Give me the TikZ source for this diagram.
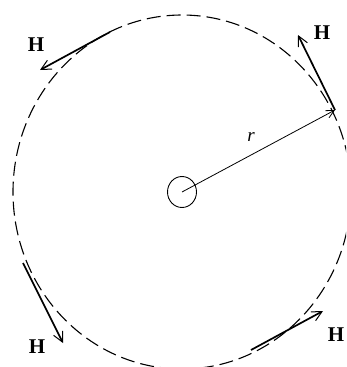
\documentclass[tikz,border=0pt]{standalone}
\usepackage{fontspec}
\setmainfont{Liberation Serif}
\usetikzlibrary{arrows.meta,shapes.geometric}
\begin{document}
\begin{tikzpicture}[x=1pt,y=-1pt,
  field/.style={line width=1.7pt,-{Straight Barb[length=10pt,width=10pt,line width=1pt]}},
  hlabel/.style={font=\fontsize{21}{21}\selectfont\bfseries,inner sep=0pt},
  rarrow/.style={line width=0.8pt,-{Straight Barb[length=8pt,width=8pt]}}]
\useasboundingbox (0,0) rectangle (346,367);
\begin{scope}
\clip (0,0) rectangle (346,367);
\draw[line width=1.1pt,dash pattern=on 14pt off 6pt] (182,192) ellipse [x radius=169,y radius=177];
\end{scope}
\node[draw,line width=0.9pt,ellipse,minimum width=29pt,minimum height=31pt,inner sep=0pt] (c) at (182,192) {};
\coordinate (o) at (182,192);
\coordinate (p) at (335,110);
\draw[rarrow] (o) -- (p);
\node[font=\fontsize{19}{19}\selectfont\itshape] (r) at (251,137) {r};
% field arrows
\coordinate (a1) at (110,32); \coordinate (b1) at (40,70);
\coordinate (b2) at (298,35);
\coordinate (a3) at (23,263); \coordinate (b3) at (63,343);
\coordinate (a4) at (251,350); \coordinate (b4) at (323,311);
\draw[field] (a1) -- (b1);
\draw[field] (p) -- (b2);
\draw[field] (a3) -- (b3);
\draw[field] (a4) -- (b4);
\node[hlabel] (h1) at (36,45) {H};
\node[hlabel] (h2) at (322,33) {H};
\node[hlabel] (h3) at (37,347) {H};
\node[hlabel] (h4) at (336,335) {H};
\end{tikzpicture}
\end{document}
